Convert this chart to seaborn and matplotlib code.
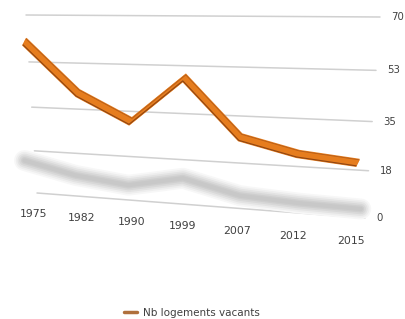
import numpy as np
import pandas as pd
import matplotlib
matplotlib.use("Agg")
import matplotlib.pyplot as plt
import matplotlib.transforms as mtransforms
from matplotlib.lines import Line2D
import seaborn as sns

# ---- data ----
years = ["1975", "1982", "1990", "1999", "2007", "2012", "2015"]
vacants = [59, 40, 30, 47, 26, 21, 19]
tick_values = [0, 17.5, 35, 52.5, 70]
tick_labels = ["0", "18", "35", "53", "70"]
series_name = "Nb logements vacants"

sns.set_theme(style="white")
plt.rcParams["font.family"] = ["DejaVu Sans"]

W, H_PX = 405, 319
fig = plt.figure(figsize=(W / 100, H_PX / 100), dpi=100)
ax = fig.add_axes([0, 0, 1, 1])


def homography(src, dst):
    A, b = [], []
    for (x, y), (u, v) in zip(src, dst):
        A.append([x, y, 1, 0, 0, 0, -u * x, -u * y]); b.append(u)
        A.append([0, 0, 0, x, y, 1, -v * x, -v * y]); b.append(v)
    h = np.linalg.solve(np.array(A, float), np.array(b, float))
    return np.append(h, 1).reshape(3, 3)


class Persp(mtransforms.Transform):
    input_dims = 2
    output_dims = 2
    is_separable = False
    has_inverse = False

    def __init__(self, M):
        super().__init__()
        self.M = M

    def transform_non_affine(self, values):
        values = np.asarray(values, float).reshape(-1, 2)
        p = np.column_stack([values, np.ones(len(values))]) @ self.M.T
        return p[:, :2] / p[:, 2:3]


# back wall of the 3D chart (category index, value) -> pixel position
xa, xb = 0.1, 6.2
vmax = tick_values[-1]
M = homography([(xa, vmax), (xb, vmax), (xa, 0), (xb, 0)],
               [(26, 15), (380, 17), (37, 193), (365, 218)])
T = Persp(M) + ax.transData

pos = np.arange(len(years))
df = pd.DataFrame({"pos": pos, "val": vacants})

# gridlines
for v in tick_values:
    ax.plot([xa, xb], [v, v], transform=T, color="#d0d0d0", lw=1.1, zorder=1)

# blurred shadow (flattened copy of the series)
S = (mtransforms.Affine2D().translate(-3, 0).scale(1.04, 0.25).translate(3, -1.5)
     + T)
for lw, c in [(15, "#f7f7f7"), (12.5, "#eeeeee"), (10, "#e3e3e3"),
              (7.5, "#d8d8d8"), (5, "#cecece"), (3, "#c8c8c8")]:
    sns.lineplot(data=df, x="pos", y="val", ax=ax, transform=S, color=c,
                 lw=lw, legend=False, solid_capstyle="round",
                 solid_joinstyle="round", zorder=2)

# ribbon (front edge swept toward the back)
dx, dy = 3.0, 6.0
for k in np.linspace(0, 1, 9):
    tr = mtransforms.offset_copy(T, fig=fig, x=dx * k, y=dy * k, units="dots")
    sns.lineplot(data=df, x="pos", y="val", ax=ax, transform=tr, color="#e67d1e",
                 lw=1.6, legend=False, solid_capstyle="butt", solid_joinstyle="miter",
                 zorder=3)
sns.lineplot(data=df, x="pos", y="val", ax=ax, transform=T, color="#8f4512",
             lw=0.8, legend=False, solid_capstyle="butt", zorder=4)
trb = mtransforms.offset_copy(T, fig=fig, x=dx, y=dy, units="dots")
sns.lineplot(data=df, x="pos", y="val", ax=ax, transform=trb, color="#b45c18",
             lw=0.6, legend=False, solid_capstyle="butt", zorder=4)

# value labels at the right
trt = mtransforms.offset_copy(T, fig=fig, x=11, y=0, units="dots")
for v, lab in zip(tick_values, tick_labels):
    ax.text(xb, v, lab, transform=trt, ha="left", va="center",
            fontsize=7.3, color="#404040")

# category labels
for p, lab in zip(pos, years):
    ax.text(p, -9, lab, transform=T, ha="center", va="center",
            fontsize=7.8, color="#404040")

ax.set_xlim(0, W)
ax.set_ylim(H_PX, 0)
ax.set_axis_off()

fig.legend(handles=[Line2D([], [], color="#b0703c", lw=2.5)], labels=[series_name],
           loc="center", bbox_to_anchor=(0.474, 0.019), frameon=False,
           fontsize=7.5, handlelength=1.2, handletextpad=0.6, labelcolor="#404040")

fig.savefig("out.png", dpi=100)
